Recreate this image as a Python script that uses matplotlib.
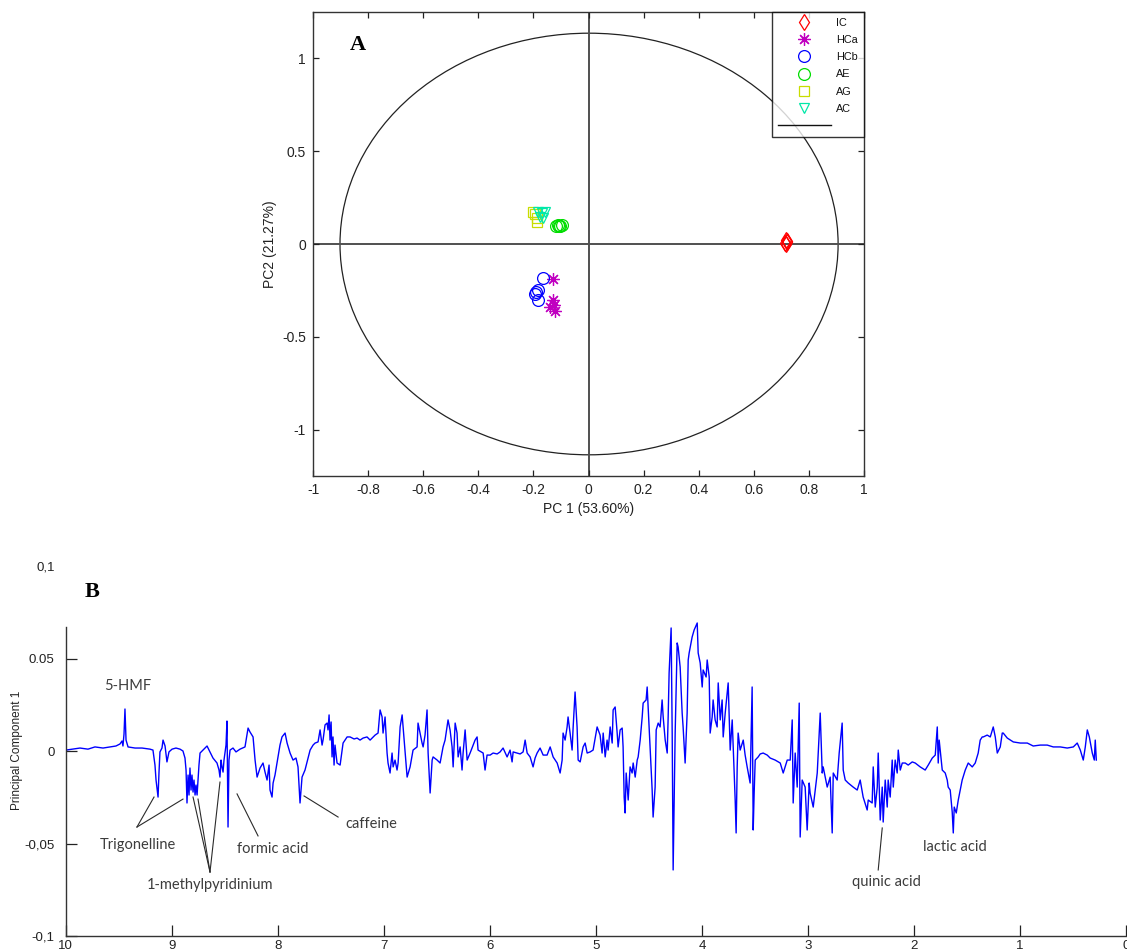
import numpy as np
import matplotlib
matplotlib.use("Agg")
import matplotlib.pyplot as plt
from matplotlib.lines import Line2D
from matplotlib.patches import Ellipse

plt.rcParams['font.family'] = ['Liberation Sans', 'DejaVu Sans']

# ---------------- Panel A: PCA scores ----------------
groups = ["IC", "HCa", "HCb", "AE", "AG", "AC"]
group_colors = ["#ff0000", "#c000c0", "#0000ff", "#00dd00", "#c8dd00", "#00e8a8"]
group_markers = ["d", (8, 2, 0), "o", "o", "s", "v"]

ic_pc1 = [0.715, 0.720, 0.718, 0.722, 0.716]
ic_pc2 = [0.005, 0.015, 0.000, 0.010, 0.020]
hca_pc1 = [-0.130, -0.130, -0.140, -0.120, -0.125]
hca_pc2 = [-0.190, -0.300, -0.340, -0.360, -0.330]
hcb_pc1 = [-0.165, -0.183, -0.196, -0.183, -0.190]
hcb_pc2 = [-0.185, -0.245, -0.270, -0.300, -0.260]
ae_pc1 = [-0.118, -0.110, -0.102, -0.097, -0.106]
ae_pc2 = [0.097, 0.100, 0.095, 0.100, 0.098]
ag_pc1 = [-0.200, -0.187, -0.187, -0.195]
ag_pc2 = [0.172, 0.140, 0.118, 0.160]
ac_pc1 = [-0.183, -0.169, -0.158, -0.165, -0.176]
ac_pc2 = [0.172, 0.167, 0.172, 0.140, 0.145]

scores_pc1 = [ic_pc1, hca_pc1, hcb_pc1, ae_pc1, ag_pc1, ac_pc1]
scores_pc2 = [ic_pc2, hca_pc2, hcb_pc2, ae_pc2, ag_pc2, ac_pc2]
marker_sizes = [8, 9, 8.5, 8.5, 7, 7.5]

pc1_label = "PC 1 (53.60%)"
pc2_label = "PC2 (21.27%)"
a_xticks = [-1, -0.8, -0.6, -0.4, -0.2, 0, 0.2, 0.4, 0.6, 0.8, 1]
a_yticks = [-1, -0.5, 0, 0.5, 1]

# ---------------- Panel B: PC1 loadings ----------------
ppm = [
    9.997, 9.94, 9.865, 9.79, 9.724, 9.648, 9.582, 9.526, 9.488, 9.469, 9.46, 9.45, 9.441, 9.431, 9.412,
    9.346, 9.28, 9.205, 9.177, 9.158, 9.148, 9.129, 9.12, 9.111, 9.092, 9.082, 9.063, 9.045, 9.026, 8.997,
    8.96, 8.922, 8.894, 8.875, 8.865, 8.856, 8.846, 8.837, 8.828, 8.818, 8.809, 8.799, 8.79, 8.78, 8.771,
    8.761, 8.743, 8.733, 8.705, 8.667, 8.639, 8.611, 8.573, 8.554, 8.545, 8.535, 8.526, 8.516, 8.507, 8.488,
    8.479, 8.469, 8.46, 8.45, 8.422, 8.394, 8.356, 8.309, 8.28, 8.262, 8.233, 8.214, 8.195, 8.167, 8.139,
    8.12, 8.101, 8.082, 8.073, 8.054, 8.044, 8.026, 8.007, 7.979, 7.96, 7.931, 7.912, 7.884, 7.856, 7.828,
    7.809, 7.79, 7.771, 7.743, 7.714, 7.695, 7.667, 7.648, 7.62, 7.601, 7.582, 7.573, 7.554, 7.535, 7.526,
    7.516, 7.507, 7.497, 7.488, 7.479, 7.469, 7.46, 7.441, 7.412, 7.384, 7.346, 7.318, 7.28, 7.252, 7.224,
    7.195, 7.158, 7.129, 7.082, 7.054, 7.035, 7.016, 7.007, 6.988, 6.969, 6.96, 6.941, 6.922, 6.912, 6.894,
    6.875, 6.865, 6.846, 6.827, 6.818, 6.799, 6.78, 6.752, 6.724, 6.686, 6.677, 6.658, 6.639, 6.629, 6.611,
    6.592, 6.582, 6.563, 6.544, 6.535, 6.497, 6.469, 6.441, 6.422, 6.394, 6.375, 6.356, 6.346, 6.327, 6.309,
    6.299, 6.28, 6.262, 6.252, 6.233, 6.214, 6.186, 6.139, 6.12, 6.111, 6.063, 6.045, 6.026, 5.997, 5.969,
    5.931, 5.903, 5.875, 5.837, 5.809, 5.79, 5.78, 5.743, 5.714, 5.686, 5.667, 5.648, 5.62, 5.592, 5.573,
    5.554, 5.526, 5.497, 5.46, 5.431, 5.403, 5.365, 5.337, 5.318, 5.309, 5.29, 5.271, 5.262, 5.243, 5.224,
    5.214, 5.196, 5.177, 5.167, 5.148, 5.12, 5.101, 5.082, 5.054, 5.026, 4.988, 4.96, 4.941, 4.931, 4.912,
    4.894, 4.884, 4.865, 4.846, 4.837, 4.818, 4.799, 4.79, 4.771, 4.752, 4.743, 4.733, 4.724, 4.714, 4.695,
    4.677, 4.658, 4.648, 4.629, 4.61, 4.601, 4.582, 4.563, 4.554, 4.526, 4.516, 4.507, 4.488, 4.469, 4.46,
    4.441, 4.431, 4.412, 4.394, 4.375, 4.365, 4.346, 4.327, 4.318, 4.309, 4.29, 4.28, 4.271, 4.261, 4.252,
    4.233, 4.224, 4.205, 4.186, 4.177, 4.158, 4.139, 4.129, 4.12, 4.092, 4.073, 4.044, 4.035, 4.016, 3.997,
    3.988, 3.96, 3.95, 3.931, 3.922, 3.903, 3.894, 3.875, 3.856, 3.846, 3.827, 3.809, 3.799, 3.78, 3.752,
    3.733, 3.714, 3.686, 3.677, 3.667, 3.658, 3.639, 3.61, 3.592, 3.573, 3.545, 3.526, 3.516, 3.507, 3.497,
    3.469, 3.45, 3.422, 3.384, 3.356, 3.309, 3.261, 3.233, 3.195, 3.167, 3.148, 3.139, 3.12, 3.101, 3.082,
    3.073, 3.054, 3.026, 3.007, 2.988, 2.979, 2.95, 2.931, 2.912, 2.884, 2.865, 2.856, 2.818, 2.79, 2.771,
    2.761, 2.724, 2.705, 2.677, 2.667, 2.648, 2.62, 2.573, 2.535, 2.507, 2.479, 2.441, 2.431, 2.394, 2.384,
    2.365, 2.346, 2.337, 2.318, 2.299, 2.29, 2.271, 2.252, 2.243, 2.224, 2.205, 2.195, 2.177, 2.158, 2.148,
    2.129, 2.11, 2.082, 2.054, 2.016, 1.988, 1.941, 1.894, 1.865, 1.827, 1.799, 1.78, 1.771, 1.762, 1.733,
    1.705, 1.686, 1.677, 1.658, 1.639, 1.629, 1.62, 1.601, 1.582, 1.545, 1.516, 1.488, 1.45, 1.422, 1.394,
    1.375, 1.356, 1.346, 1.309, 1.28, 1.252, 1.233, 1.214, 1.186, 1.167, 1.158, 1.12, 1.063, 0.997, 0.931,
    0.875, 0.809, 0.743, 0.686, 0.62, 0.554, 0.497, 0.46, 0.431, 0.403, 0.384, 0.365, 0.346, 0.318, 0.299,
    0.29, 0.28,
]
pc1_loading = [
    0.0005, 0.001, 0.0016, 0.001, 0.0022, 0.0016, 0.0022, 0.0027, 0.0038, 0.0054, 0.0027, 0.0092, 0.0227, 0.0059, 0.0022,
    0.0016, 0.0016, 0.001, 0.0005, -0.0076, -0.0157, -0.0249, -0.0114, -0.0005, 0.0016, 0.0059, 0.0027, -0.0059, -0.0005, 0.001,
    0.0016, 0.001, 0.0, -0.0038, -0.0103, -0.0281, -0.013, -0.0238, -0.0092, -0.0211, -0.013, -0.0222, -0.0157, -0.0238, -0.0184,
    -0.0238, -0.0076, -0.0011, 0.0005, 0.0027, -0.0005, -0.0038, -0.0065, -0.0103, -0.0141, -0.0049, -0.0086, -0.0114, -0.0049, 0.0032,
    0.0162, -0.0411, -0.0049, 0.0005, 0.0016, -0.0005, 0.001, 0.0022, 0.0124, 0.0103, 0.0076, -0.0049, -0.0141, -0.0092, -0.0065,
    -0.0114, -0.0157, -0.0076, -0.0211, -0.0249, -0.0173, -0.013, -0.0065, 0.0032, 0.0076, 0.0097, 0.0043, -0.0011, -0.0049, -0.0038,
    -0.0086, -0.0281, -0.0141, -0.0103, -0.0038, 0.0005, 0.0032, 0.0043, 0.0049, 0.0114, 0.0032, 0.0059, 0.0141, 0.0151, 0.0114,
    0.0195, 0.0059, 0.0157, -0.0032, 0.0076, -0.0076, 0.0032, -0.0065, -0.0076, 0.0043, 0.0076, 0.0076, 0.0065, 0.007, 0.0059,
    0.007, 0.0076, 0.0059, 0.0086, 0.0097, 0.0222, 0.0184, 0.0097, 0.0184, -0.0011, -0.0065, -0.0119, -0.0011, -0.0086, -0.0049,
    -0.0103, -0.0065, 0.013, 0.0195, 0.013, -0.0011, -0.0141, -0.0086, 0.0005, 0.0022, 0.0151, 0.0097, 0.0043, 0.0022, 0.0086,
    0.0222, -0.0011, -0.0227, -0.0049, -0.0032, -0.0049, -0.0065, 0.0022, 0.0059, 0.0168, 0.0114, 0.0022, -0.0086, 0.0151, 0.0097,
    -0.0032, 0.0022, -0.0103, -0.0011, 0.0114, -0.0049, -0.0011, 0.0059, 0.0076, 0.0005, -0.0011, -0.0103, -0.0022, -0.0022, -0.0011,
    -0.0016, -0.0005, 0.0016, -0.0032, 0.0005, -0.0059, -0.0005, -0.0011, -0.0016, -0.0005, 0.0059, -0.0011, -0.0032, -0.0086, -0.0038,
    -0.0011, 0.0016, -0.0022, -0.0022, 0.0022, -0.0032, -0.0065, -0.0119, -0.0049, 0.0097, 0.0059, 0.013, 0.0184, 0.0097, 0.0005,
    0.013, 0.0319, 0.013, -0.0049, -0.0059, 0.0022, 0.0043, -0.0011, -0.0005, 0.0005, 0.013, 0.0086, -0.0011, 0.0097, -0.0032,
    0.0059, 0.0005, 0.013, 0.0043, 0.0222, 0.0238, 0.0097, 0.0022, 0.0114, 0.0124, 0.0022, -0.0249, -0.0335, -0.0119, -0.0265,
    -0.0086, -0.0119, -0.0065, -0.0141, -0.0049, -0.0032, 0.0059, 0.0184, 0.0259, 0.0276, 0.0346, 0.0238, 0.0022, -0.0211, -0.0357,
    -0.0195, 0.0114, 0.0151, 0.013, 0.0276, 0.0184, 0.0059, -0.0011, 0.0184, 0.0422, 0.0665, 0.0097, -0.0643, -0.0265, 0.0097,
    0.0584, 0.0562, 0.0454, 0.0205, 0.013, -0.0065, 0.0205, 0.0492, 0.053, 0.0616, 0.0654, 0.0692, 0.053, 0.0476, 0.0346,
    0.0438, 0.04, 0.0492, 0.04, 0.0097, 0.0184, 0.0276, 0.0168, 0.013, 0.0368, 0.0168, 0.0276, 0.0076, 0.0205, 0.0368,
    0.0005, 0.0168, -0.0265, -0.0443, -0.0086, 0.0097, 0.0005, 0.0059, -0.0022, -0.0086, -0.0173, 0.0346, -0.0427, -0.0227, -0.0049,
    -0.0032, -0.0016, -0.0011, -0.0022, -0.0038, -0.0049, -0.0065, -0.0119, -0.0049, -0.0049, 0.0168, -0.0281, -0.0011, -0.0195, 0.0259,
    -0.0465, -0.0157, -0.0195, -0.0427, -0.0173, -0.0227, -0.0303, -0.0211, -0.0119, 0.0205, -0.0119, -0.0086, -0.0195, -0.0141, -0.0443,
    -0.0119, -0.0157, -0.0011, 0.0151, -0.0103, -0.0157, -0.0173, -0.0195, -0.0211, -0.0157, -0.0249, -0.0319, -0.0265, -0.0281, -0.0086,
    -0.0303, -0.0195, -0.0011, -0.0373, -0.0195, -0.0384, -0.0157, -0.0303, -0.0157, -0.0249, -0.0049, -0.0195, -0.0049, -0.0119, 0.0005,
    -0.0103, -0.0065, -0.0065, -0.0076, -0.0059, -0.0065, -0.0086, -0.0103, -0.0076, -0.0038, -0.0022, 0.013, -0.0065, 0.0059, -0.0103,
    -0.0119, -0.0157, -0.0195, -0.0211, -0.033, -0.0443, -0.0303, -0.0335, -0.0265, -0.0157, -0.0103, -0.0065, -0.0086, -0.0065, -0.0011,
    0.0059, 0.0076, 0.0076, 0.0086, 0.0076, 0.013, 0.0076, -0.0011, 0.0022, 0.0097, 0.0097, 0.007, 0.0049, 0.0043, 0.0043,
    0.0027, 0.0032, 0.0032, 0.0022, 0.0022, 0.0016, 0.0022, 0.0043, 0.0005, -0.0049, 0.0022, 0.0114, 0.0076, -0.0011, -0.0049,
    0.0059, -0.0049,
]

b_yticks = [-0.1, -0.05, 0, 0.05, 0.1]
b_yticklabels = ["-0,1", "-0,05", "0", "0.05", "0,1"]
b_xticks = list(range(0, 11))

# compound labels: (text, ppm, loading) and leader lines from label to peak
compound_labels = [
    ("5-HMF", 9.412, 0.0351),
    ("Trigonelline", 9.318, -0.0508),
    ("1-methylpyridinium", 8.639, -0.0724),
    ("formic acid", 8.045, -0.0530),
    ("caffeine", 7.120, -0.0395),
    ("quinic acid", 2.260, -0.0708),
    ("lactic acid", 1.610, -0.0519),
]
leader_lines = [
    ((9.328, -0.0411), (9.167, -0.0249)),
    ((9.328, -0.0411), (8.894, -0.0260)),
    ((8.639, -0.0654), (8.799, -0.0249)),
    ((8.639, -0.0654), (8.752, -0.0260)),
    ((8.639, -0.0654), (8.545, -0.0168)),
    ((8.186, -0.0459), (8.384, -0.0232)),
    ((7.431, -0.0357), (7.752, -0.0243)),
    ((2.337, -0.0643), (2.299, -0.0416)),
]

W, H = 1127, 951
fig = plt.figure(figsize=(W / 100, H / 100), dpi=100)

# ---------- Panel A ----------
axA = fig.add_axes([313 / W, 1 - 476 / H, (864 - 313) / W, (476 - 12) / H])
axA.set_xlim(-1, 1)
axA.set_ylim(-1.248, 1.248)
axA.add_patch(Ellipse((0.002, 0), 2 * 0.904, 2 * 1.134, fill=False,
                      edgecolor="#222222", lw=0.9))
axA.axhline(0, color="#505050", lw=1.4, zorder=1)
axA.axvline(0, color="#505050", lw=1.4, zorder=1)

handles = []
for xs, ys, col, mk, ms, name in zip(scores_pc1, scores_pc2, group_colors,
                                     group_markers, marker_sizes, groups):
    axA.plot(xs, ys, ls="none", marker=mk, ms=ms, mfc="none", mec=col,
             mew=0.9, zorder=3)
    handles.append(Line2D([], [], ls="none", marker=mk, ms=ms, mfc="none",
                          mec=col, mew=0.9))
handles.append(Line2D([], [], color="#111111", lw=1.0))
labels = groups + [" "]
leg = axA.legend(handles, labels, loc="upper right", bbox_to_anchor=(1, 1),
                 borderaxespad=0, frameon=True, fancybox=False,
                 edgecolor="black", fontsize=7.8, handlelength=4.9,
                 handletextpad=0.5, labelspacing=0.66, borderpad=0.55)
leg.get_frame().set_linewidth(1.0)
for t in leg.get_texts():
    t.set_color("#111111")

axA.set_xticks(a_xticks)
axA.set_xticklabels([f"{v:g}" for v in a_xticks])
axA.set_yticks(a_yticks)
axA.set_yticklabels([f"{v:g}" for v in a_yticks])
axA.tick_params(direction="in", length=4, width=0.9, top=True, right=True,
                labelsize=10, colors="#222222", pad=5)
for s in axA.spines.values():
    s.set_color("#333333")
    s.set_linewidth(1.0)
axA.set_xlabel(pc1_label, fontsize=10, color="#222222", labelpad=4)
axA.set_ylabel(pc2_label, fontsize=10, color="#222222", labelpad=4)
fig.text(358 / W, 1 - 45 / H, "A", fontsize=16, fontweight="bold",
         family=["Liberation Serif", "DejaVu Serif"], ha="center", va="center")

# ---------- Panel B ----------
axB = fig.add_axes([65.7 / W, 1 - 936 / H, (1126 - 65.7) / W, (936 - 566) / H])
axB.plot(ppm, pc1_loading, color="#0000ff", lw=1.0)
axB.set_xlim(10, 0)
axB.set_ylim(-0.1, 0.1)
axB.spines["top"].set_visible(False)
axB.spines["right"].set_visible(False)
axB.spines["left"].set_bounds(-0.1, 0.067)
for s in ("left", "bottom"):
    axB.spines[s].set_color("#333333")
    axB.spines[s].set_linewidth(1.0)
axB.set_xticks(b_xticks)
axB.set_xticklabels([str(v) for v in b_xticks])
axB.set_yticks(b_yticks)
axB.set_yticklabels(b_yticklabels)
axB.tick_params(axis="both", direction="in", length=8, width=0.9,
                labelsize=9.5, colors="#222222")
axB.tick_params(axis="x", pad=3)
axB.tick_params(axis="y", pad=8)
top_tick = axB.yaxis.get_major_ticks()[-1]
top_tick.tick1line.set_visible(False)

annot_font = ["Lato", "DejaVu Sans"]
for text, x, y in compound_labels:
    axB.text(x, y, text, ha="center", va="center", fontsize=10.5,
             family=annot_font, color="#3c3c3c")
for (x0, y0), (x1, y1) in leader_lines:
    axB.plot([x0, x1], [y0, y1], color="#2a2a2a", lw=0.8)

fig.text(17 / W, 1 - 750 / H, "Principal Component 1", rotation=90,
         fontsize=8.5, ha="center", va="center", color="#222222")
fig.text(92 / W, 1 - 592 / H, "B", fontsize=16, fontweight="bold",
         family=["Liberation Serif", "DejaVu Serif"], ha="center", va="center")

fig.savefig("out.png", dpi=100)
